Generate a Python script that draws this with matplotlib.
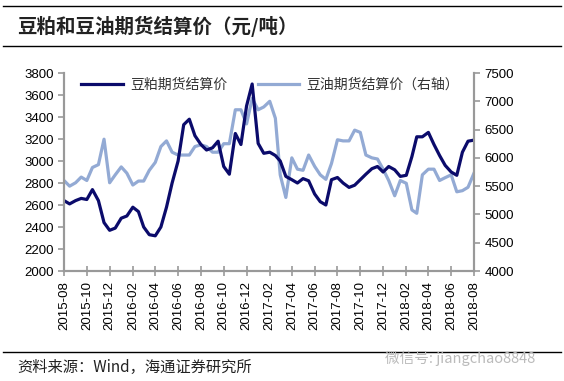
import matplotlib
matplotlib.use("Agg")
import matplotlib.pyplot as plt
import matplotlib.dates as mdates
import pandas as pd

plt.rcParams['font.family'] = ['Liberation Sans', 'Noto Sans CJK SC', 'DejaVu Sans']

# half-month sampling, 2015-08-01 .. 2018-08-01
dates = []
for p in pd.period_range("2015-08", "2018-08", freq="M"):
    dates.append(pd.Timestamp(p.start_time))
    dates.append(pd.Timestamp(p.start_time) + pd.Timedelta(days=15))
dates = dates[:73]

# soymeal futures settlement price (left axis)
meal = [2640, 2610, 2640, 2660, 2650, 2740, 2640, 2440, 2370, 2390,
        2480, 2500, 2580, 2540, 2400, 2330, 2320, 2400, 2580, 2800,
        3000, 3330, 3380, 3230, 3150, 3100, 3120, 3180, 2950, 2880,
        3250, 3150, 3500, 3700, 3160, 3070, 3080, 3050, 3000, 2860,
        2830, 2800, 2840, 2820, 2700, 2630, 2600, 2830, 2850, 2800,
        2760, 2780, 2830, 2880, 2930, 2950, 2900, 2950, 2920, 2860,
        2870, 3040, 3220, 3220, 3260, 3150, 3050, 2960, 2900, 2870,
        3080, 3180, 3190]

# soybean oil futures settlement price (right axis)
oil = [5600, 5500, 5560, 5660, 5600, 5830, 5880, 6330, 5560, 5700,
       5840, 5730, 5520, 5590, 5590, 5780, 5920, 6200, 6300, 6100,
       6050, 6050, 6050, 6200, 6230, 6200, 6100, 6100, 6250, 6250,
       6850, 6850, 6600, 7050, 6850, 6900, 7000, 6700, 5700, 5300,
       6000, 5800, 5780, 6050, 5850, 5700, 5620, 5900, 6320, 6300,
       6300, 6490, 6450, 6050, 6000, 5980, 5800, 5600, 5330, 5600,
       5550, 5080, 5020, 5700, 5800, 5800, 5600, 5650, 5700, 5400,
       5420, 5480, 5730]

dark = '#0b0b6b'
light = '#93aad4'
grey = '#999999'

fig = plt.figure(figsize=(5.64, 3.81), dpi=100)
ax = fig.add_axes([64/564, 1 - 271/381, 410/564, 198/381])
ax2 = ax.twinx()

l1, = ax.plot(dates, meal, color=dark, lw=2.3, label='豆粕期货结算价')
l2, = ax2.plot(dates, oil, color=light, lw=2.3, label='豆油期货结算价（右轴）')
ax.set_zorder(ax2.get_zorder() + 1)
ax.patch.set_visible(False)

ax.set_ylim(2000, 3800)
ax.set_yticks(range(2000, 3801, 200))
ax2.set_ylim(4000, 7500)
ax2.set_yticks(range(4000, 7501, 500))
ax.set_xlim(pd.Timestamp("2015-08-01"), pd.Timestamp("2018-08-01"))
ax.xaxis.set_major_locator(mdates.MonthLocator(bymonth=[2, 4, 6, 8, 10, 12]))
ax.xaxis.set_major_formatter(mdates.DateFormatter('%Y-%m'))
plt.setp(ax.get_xticklabels(), rotation=90)

for a in (ax, ax2):
    a.spines['top'].set_visible(False)
    for s in ('left', 'right', 'bottom'):
        a.spines[s].set_color(grey)
        a.spines[s].set_linewidth(1.5)
    a.tick_params(colors=grey, labelcolor='black', labelsize=9.5, length=4, width=1.2)
ax.tick_params(axis='x', direction='inout', length=7)

leg = ax.legend(handles=[l1, l2], loc='upper left', bbox_to_anchor=(0.012, 1.04),
                ncol=2, frameon=False, handlelength=3.0,
                columnspacing=2.2, handletextpad=0.5,
                prop={'family': ['Noto Sans CJK SC'], 'size': 10})
for t in leg.get_texts():
    t.set_color('#333333')

# frame lines and texts
fig.add_artist(plt.Line2D([0.005, 0.995], [1 - 6/381, 1 - 6/381], color='black', lw=1))
fig.add_artist(plt.Line2D([0.005, 0.995], [1 - 46/381, 1 - 46/381], color='black', lw=1))
fig.add_artist(plt.Line2D([0.005, 0.995], [1 - 352/381, 1 - 352/381], color='black', lw=1))
fig.text(17/564, 1 - 26/381, '豆粕和豆油期货结算价（元/吨）', fontsize=14, fontweight='bold',
         color='#222222', va='center', family=['Noto Sans CJK SC'])
fig.text(17/564, 1 - 367/381, '资料来源：Wind，海通证券研究所', fontsize=11,
         color='#222222', va='center', family=['Noto Sans CJK SC', 'Liberation Sans'])
fig.text(385/564, 1 - 358/381, '微信号: jiangchao8848', fontsize=10.5,
         color='#bbbbbb', va='center', family=['Noto Sans CJK SC', 'Liberation Sans'])

fig.savefig('out.png', dpi=100)
